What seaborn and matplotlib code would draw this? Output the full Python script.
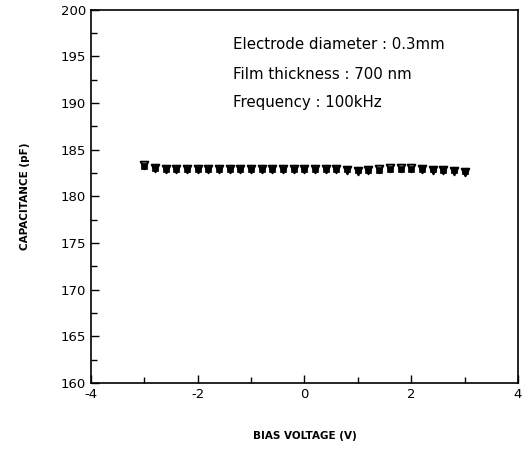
import numpy as np
import pandas as pd
import matplotlib
matplotlib.use("Agg")
import matplotlib.pyplot as plt
import seaborn as sns
from matplotlib.ticker import MultipleLocator

bias_v = [-3.0, -2.8, -2.6, -2.4, -2.2, -2.0, -1.8, -1.6, -1.4, -1.2, -1.0,
          -0.8, -0.6, -0.4, -0.2, 0.0, 0.2, 0.4, 0.6, 0.8, 1.0, 1.2, 1.4,
          1.6, 1.8, 2.0, 2.2, 2.4, 2.6, 2.8, 3.0]
cap_square = [183.3, 183.0, 182.9, 182.9, 182.9, 182.9, 182.9, 182.9, 182.9, 182.9, 182.9,
              182.9, 182.9, 182.9, 182.9, 182.9, 182.9, 182.9, 182.9, 182.9, 182.8, 182.8, 182.8,
              182.9, 182.9, 182.9, 182.9, 182.9, 182.8, 182.8, 182.7]
cap_triangle = [183.4, 183.0, 182.9, 182.9, 182.9, 182.9, 182.9, 182.9, 182.9, 182.9, 182.9,
                182.9, 182.9, 182.9, 182.9, 182.9, 182.9, 182.9, 182.9, 182.8, 182.7, 182.8, 182.9,
                183.0, 183.0, 183.0, 182.9, 182.8, 182.8, 182.7, 182.6]

df = pd.DataFrame({
    "V": bias_v * 2,
    "C": cap_square + cap_triangle,
    "s": ["sq"] * len(bias_v) + ["tri"] * len(bias_v),
})

sns.set_style("ticks")
plt.rcParams["font.family"] = ["DejaVu Sans"]
plt.rcParams["axes.unicode_minus"] = False
plt.rcParams["text.color"] = "black"
plt.rcParams["axes.labelcolor"] = "black"
plt.rcParams["xtick.color"] = "black"
plt.rcParams["ytick.color"] = "black"
fig = plt.figure(figsize=(5.28, 4.67), dpi=100)
ax = fig.add_axes([0.172, 0.180, 0.809, 0.799])

sns.scatterplot(data=df[df.s == "tri"], x="V", y="C", marker="v", s=30,
                facecolor="white", edgecolor="black", linewidth=1.4, ax=ax, zorder=3)
sns.scatterplot(data=df[df.s == "sq"], x="V", y="C", marker="s", s=18,
                color="black", edgecolor="black", linewidth=0.5, ax=ax, zorder=4)

ax.set_xlim(-4, 4)
ax.set_ylim(160, 200)
ax.xaxis.set_major_locator(MultipleLocator(2))
ax.xaxis.set_minor_locator(MultipleLocator(1))
ax.yaxis.set_major_locator(MultipleLocator(5))
ax.yaxis.set_minor_locator(MultipleLocator(2.5))
ax.tick_params(which="both", direction="in", color="black", labelsize=9.5,
               bottom=True, left=True, top=False, right=False)
ax.tick_params(which="major", length=6, width=1)
ax.tick_params(which="minor", length=4, width=1)
for sp in ax.spines.values():
    sp.set_visible(True)
    sp.set_color("black")
    sp.set_linewidth(1.2)

ax.set_xlabel("BIAS VOLTAGE (V)", fontsize=7.5, fontweight="bold", labelpad=22)
ax.set_ylabel("CAPACITANCE (pF)", fontsize=7.5, fontweight="bold", labelpad=22)

ax.text(-1.34, 196.3, "Electrode diameter : 0.3mm", fontsize=10.8, va="center")
ax.text(-1.34, 193.1, "Film thickness : 700 nm", fontsize=10.8, va="center")
ax.text(-1.34, 190.1, "Frequency : 100kHz", fontsize=10.8, va="center")

fig.savefig("out.png", dpi=100)
